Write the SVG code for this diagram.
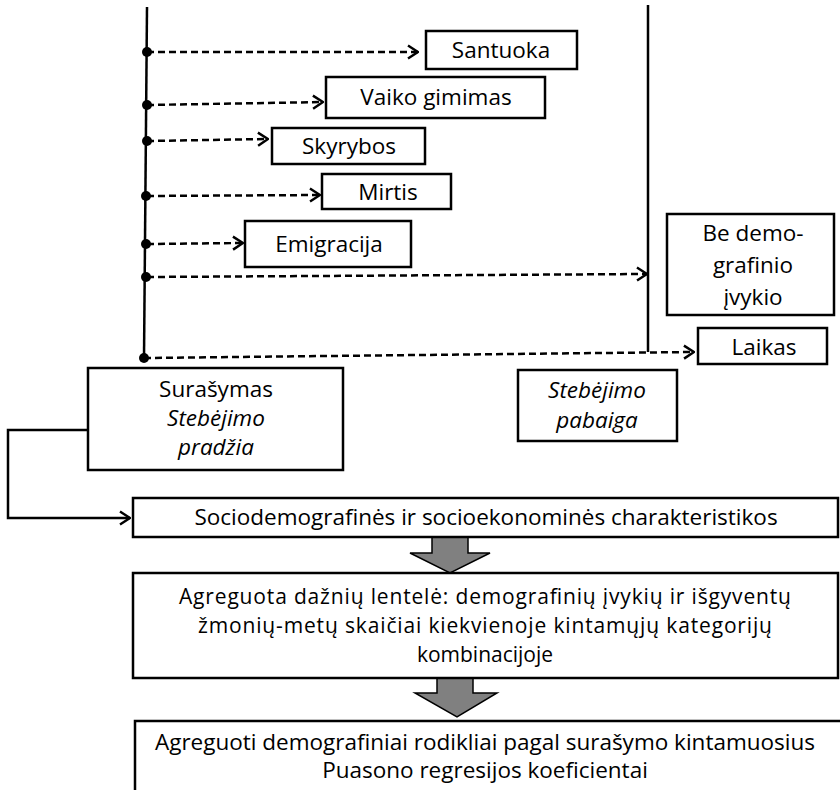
<svg xmlns="http://www.w3.org/2000/svg" width="840" height="790" viewBox="0 0 840 790">
<style>
.box{fill:#fff;stroke:#000;stroke-width:2.5}
.t{font-family:"Open Sans","Noto Sans",sans-serif;font-size:22.5px;fill:#000;text-anchor:middle}
.s{font-size:21px}
.i{font-style:italic}
.dash{fill:none;stroke:#000;stroke-width:2.5;stroke-dasharray:7,4}
.solid{fill:none;stroke:#000;stroke-width:2.5}
.dot{fill:#000}
.big{fill:#808080;stroke:#000;stroke-width:1.5}
</style>
<defs>
<marker id="arr" viewBox="0 0 12 16" refX="11" refY="8" markerWidth="12" markerHeight="16" markerUnits="userSpaceOnUse" orient="auto">
<path d="M1,1.5 L11,8 L1,14.5" fill="none" stroke="#000" stroke-width="2.5" stroke-dasharray="none"/>
</marker>
</defs>
<g id="connectors">
<line class="solid" x1="147" y1="7" x2="144" y2="358"/>
<line class="solid" x1="648" y1="5" x2="648" y2="352"/>
<path class="dash" d="M147,52 L418,52" marker-end="url(#arr)"/>
<path class="dash" d="M147,105 L323,102" marker-end="url(#arr)"/>
<path class="dash" d="M147,141 L268,139" marker-end="url(#arr)"/>
<path class="dash" d="M147,196 L320,195" marker-end="url(#arr)"/>
<path class="dash" d="M147,244 L243,243" marker-end="url(#arr)"/>
<path class="dash" d="M147,277 L647,274" marker-end="url(#arr)"/>
<path class="dash" d="M144,358 L694,352" marker-end="url(#arr)"/>
<circle class="dot" cx="147" cy="52" r="5"/>
<circle class="dot" cx="147" cy="105" r="5"/>
<circle class="dot" cx="147" cy="141" r="5"/>
<circle class="dot" cx="146" cy="196" r="5"/>
<circle class="dot" cx="146" cy="244" r="5"/>
<circle class="dot" cx="146" cy="277" r="5"/>
<circle class="dot" cx="144" cy="358" r="5"/>
<path class="solid" d="M88,430 L8,430 L8,518 L130,518" marker-end="url(#arr)"/>
<path class="big" d="M432,537 L468,537 L468,553 L490,553 L450,573 L410,553 L432,553 Z"/>
<path class="big" d="M437,678 L473,678 L473,693 L497,693 L457,717 L415,693 L437,693 Z"/>
</g>
<g id="santuoka"><rect class="box" x="426" y="31" width="151" height="38"/><text class="t" x="501" y="58">Santuoka</text></g>
<g id="vaiko"><rect class="box" x="326" y="77" width="219" height="41"/><text class="t" x="436" y="105">Vaiko gimimas</text></g>
<g id="skyrybos"><rect class="box" x="272" y="128" width="153" height="36"/><text class="t" x="349" y="154">Skyrybos</text></g>
<g id="mirtis"><rect class="box" x="322" y="174" width="129" height="35"/><text class="t" x="388" y="200">Mirtis</text></g>
<g id="emigracija"><rect class="box" x="245" y="221" width="166" height="46"/><text class="t" x="329" y="252">Emigracija</text></g>
<g id="be"><rect class="box" x="667" y="214" width="167" height="101"/>
<text class="t" x="753" y="241">Be demo-</text><text class="t" x="753" y="273">grafinio</text><text class="t" x="753" y="305">įvykio</text></g>
<g id="laikas"><rect class="box" x="698" y="328" width="129" height="36"/><text class="t" x="764" y="355">Laikas</text></g>
<g id="surasymas"><rect class="box" x="88" y="368" width="255" height="102"/>
<text class="t" x="216" y="397">Surašymas</text><text class="t i" x="216" y="426">Stebėjimo</text><text class="t i" x="216" y="455">pradžia</text></g>
<g id="pabaiga"><rect class="box" x="518" y="370" width="159" height="71"/>
<text class="t i" x="597" y="398">Stebėjimo</text><text class="t i" x="597" y="428">pabaiga</text></g>
<g id="socio"><rect class="box" x="133" y="498" width="705" height="39"/><text class="t" x="486" y="525">Sociodemografinės ir socioekonominės charakteristikos</text></g>
<g id="agreguota"><rect class="box" x="133" y="573" width="705" height="105"/>
<text class="t s" x="485" y="604" textLength="612" lengthAdjust="spacing">Agreguota dažnių lentelė: demografinių įvykių ir išgyventų</text>
<text class="t s" x="485" y="633" textLength="574" lengthAdjust="spacing">žmonių-metų skaičiai kiekvienoje kintamųjų kategorijų</text>
<text class="t s" x="485" y="662">kombinacijoje</text></g>
<g id="rodikliai"><rect class="box" x="135" y="721" width="710" height="80"/>
<text class="t" x="485" y="750">Agreguoti demografiniai rodikliai pagal surašymo kintamuosius</text>
<text class="t" x="485" y="778">Puasono regresijos koeficientai</text></g>
</svg>
